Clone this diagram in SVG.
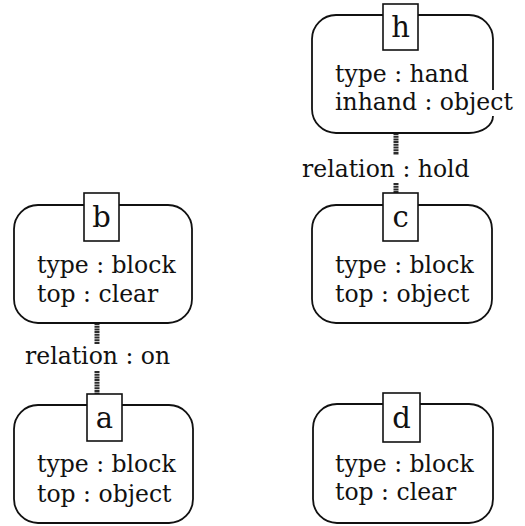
<svg xmlns="http://www.w3.org/2000/svg" width="525" height="526" viewBox="0 0 525 526">
  <style>
    .frame { fill: #fff; stroke: #111; stroke-width: 1.8; }
    .edge { fill: none; stroke: #111; stroke-width: 1.8; }
    .tag { fill: #fff; stroke: #111; stroke-width: 1.6; }
    .tagtext { font-family: "DejaVu Serif", "Liberation Serif", serif; font-size: 29px; fill: #111; text-anchor: middle; }
    .attr { font-family: "DejaVu Serif", "Liberation Serif", serif; font-size: 23.5px; fill: #111; }
    .rel { stroke: #2a2a2a; stroke-width: 5; stroke-dasharray: 2 0.7; fill: none; }
    .reltext { font-family: "DejaVu Serif", "Liberation Serif", serif; font-size: 23.5px; fill: #111; }
  </style>
  <rect width="525" height="526" fill="#fff"/>

  <g id="connectors">
    <line class="rel" x1="97" y1="323" x2="97" y2="344"/>
    <line class="rel" x1="97" y1="371" x2="97" y2="394"/>
    <text class="reltext" x="25" y="364">relation : on</text>
    <line class="rel" x1="396" y1="133" x2="396" y2="155"/>
    <line class="rel" x1="396" y1="183" x2="396" y2="194"/>
    <text class="reltext" x="302" y="177">relation : hold</text>
  </g>

  <g id="node-h">
    <rect x="312" y="15" width="181" height="118" rx="24" fill="#fff"/>
    <path class="edge" d="M493,90 V39 A24,24 0 0 0 469,15 H336 A24,24 0 0 0 312,39 V109 A24,24 0 0 0 336,133 H469 A24,17 0 0 0 493,116"/>
    <rect class="tag" x="383" y="4" width="35" height="46"/>
    <text class="tagtext" x="400.5" y="37">h</text>
    <text class="attr" x="335" y="82">type : hand</text>
    <text class="attr" x="335" y="110">inhand : object</text>
  </g>

  <g id="node-b">
    <rect class="frame" x="14" y="205" width="178" height="118" rx="24"/>
    <rect class="tag" x="84" y="193" width="35" height="48"/>
    <text class="tagtext" x="101.5" y="227">b</text>
    <text class="attr" x="37" y="273">type : block</text>
    <text class="attr" x="37" y="302">top : clear</text>
  </g>

  <g id="node-c">
    <rect class="frame" x="312" y="205" width="180" height="118" rx="24"/>
    <rect class="tag" x="383" y="193" width="35" height="48"/>
    <text class="tagtext" x="400.5" y="227">c</text>
    <text class="attr" x="335" y="273">type : block</text>
    <text class="attr" x="335" y="302">top : object</text>
  </g>

  <g id="node-a">
    <rect class="frame" x="14" y="405" width="179" height="118" rx="24"/>
    <rect class="tag" x="87" y="394" width="35" height="47"/>
    <text class="tagtext" x="104.5" y="428">a</text>
    <text class="attr" x="37" y="472">type : block</text>
    <text class="attr" x="37" y="502">top : object</text>
  </g>

  <g id="node-d">
    <rect class="frame" x="313" y="404" width="180" height="119" rx="24"/>
    <rect class="tag" x="383" y="393" width="37" height="49"/>
    <text class="tagtext" x="401.5" y="428">d</text>
    <text class="attr" x="335" y="472">type : block</text>
    <text class="attr" x="335" y="500">top : clear</text>
  </g>
</svg>
